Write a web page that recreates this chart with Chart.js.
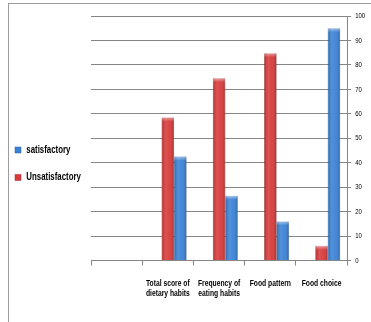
<!DOCTYPE html>
<html>
<head>
<meta charset="utf-8">
<script src="https://cdn.jsdelivr.net/npm/chart.js@4/dist/chart.umd.min.js"></script>
<style>
  html, body { margin: 0; padding: 0; background: #fff; }
  #wrap { position: relative; width: 371px; height: 322px; overflow: hidden; }
  #wrap canvas { position: absolute; left: 0; top: 0; }
  #frame { position: absolute; left: 8px; top: 3px; right: -2px; bottom: -2px;
           border-top: 1px solid #9c9c9c; border-left: 1px solid #9c9c9c; pointer-events: none; }
</style>
</head>
<body>
<div id="wrap">
  <canvas id="chart" width="371" height="322"></canvas>
  <div id="frame"></div>
</div>
<script>
// Dietary habits: share of respondents (%) per category
const categories = ['', ['Total score of', 'dietary habits'], ['Frequency of', 'eating habits'], 'Food pattern', 'Food choice'];
const unsatisfactory = [null, 58.5, 74.5, 84.8, 6];
const satisfactory = [null, 42.5, 26.5, 16, 95];
const blankSeries = [null, null, null, null, null];
const yMin = 0, yMax = 100, yStep = 10;

const RED = '#d83a3a', RED_EDGE = '#a52a2a';
const BLUE = '#3a82d6', BLUE_EDGE = '#2b62a6';
const GRID = '#868686';
const FONT = '"Liberation Sans", Arial, sans-serif';

// Draws all chart text horizontally condensed (narrow face look)
const condensedText = {
  id: 'condensedText',
  beforeInit(chart, args, opts) {
    const ctx = chart.ctx;
    const fill = ctx.fillText.bind(ctx);
    const sx = opts.scaleX || 1;
    ctx.fillText = function (text, x, y, maxWidth) {
      ctx.save();
      ctx.translate(x, y);
      ctx.scale(sx, 1);
      if (maxWidth === undefined) fill(text, 0, 0);
      else fill(text, 0, 0, maxWidth / sx);
      ctx.restore();
    };
  }
};

// Soft cylinder shading over each drawn bar
const barShade = {
  id: 'barShade',
  afterDatasetsDraw(chart) {
    const ctx = chart.ctx;
    chart.data.datasets.forEach((ds, i) => {
      const meta = chart.getDatasetMeta(i);
      meta.data.forEach(bar => {
        if (bar.skip || bar.y == null || isNaN(bar.y)) return;
        const left = bar.x - bar.width / 2, w = bar.width;
        const top = Math.min(bar.y, bar.base), h = Math.abs(bar.base - bar.y);
        if (!(h > 0)) return;
        const g = ctx.createLinearGradient(left, 0, left + w, 0);
        g.addColorStop(0, 'rgba(0,0,0,0.18)');
        g.addColorStop(0.35, 'rgba(255,255,255,0.12)');
        g.addColorStop(0.6, 'rgba(255,255,255,0.05)');
        g.addColorStop(1, 'rgba(0,0,0,0.22)');
        ctx.save();
        ctx.fillStyle = g;
        ctx.fillRect(left, top, w, h);
        const cap = ctx.createLinearGradient(0, top, 0, top + 4);
        cap.addColorStop(0, 'rgba(255,255,255,0.45)');
        cap.addColorStop(1, 'rgba(255,255,255,0)');
        ctx.fillStyle = cap;
        ctx.fillRect(left, top, w, Math.min(4, h));
        ctx.restore();
      });
    });
  }
};

new Chart(document.getElementById('chart'), {
  type: 'bar',
  data: {
    labels: categories,
    datasets: [
      { label: '', data: blankSeries, backgroundColor: 'rgba(0,0,0,0)' },
      { label: 'Unsatisfactory', data: unsatisfactory, backgroundColor: RED, borderColor: RED_EDGE, borderWidth: 0.5 },
      { label: 'satisfactory', data: satisfactory, backgroundColor: BLUE, borderColor: BLUE_EDGE, borderWidth: 0.5 }
    ]
  },
  options: {
    responsive: false,
    animation: false,
    devicePixelRatio: 1,
    categoryPercentage: 0.728,
    barPercentage: 1,
    layout: { padding: { top: 16, right: -1.5, bottom: 10.5, left: -2 } },
    plugins: {
      condensedText: { scaleX: 0.75 },
      legend: {
        position: 'left',
        reverse: true,
        maxWidth: 93,
        labels: {
          boxWidth: 6,
          boxHeight: 6,
          padding: 17,
          color: '#000',
          font: { family: FONT, weight: 'bold', size: 10.5 },
          filter: item => item.text !== ''
        }
      },
      tooltip: { enabled: false }
    },
    scales: {
      x: {
        grid: { offset: true, drawOnChartArea: false, drawTicks: true, tickLength: 5, color: GRID },
        border: { color: GRID },
        ticks: {
          autoSkip: false, maxRotation: 0, minRotation: 0, padding: 12, color: '#000',
          font: { family: FONT, weight: 'bold', size: 9, lineHeight: 1.22 }
        }
      },
      y: {
        position: 'right',
        min: yMin, max: yMax,
        grid: { color: GRID, tickLength: 4 },
        border: { color: GRID },
        ticks: { stepSize: yStep, padding: 4, color: '#000', font: { family: FONT, size: 8 } }
      }
    }
  },
  plugins: [condensedText, barShade]
});
</script>
</body>
</html>
